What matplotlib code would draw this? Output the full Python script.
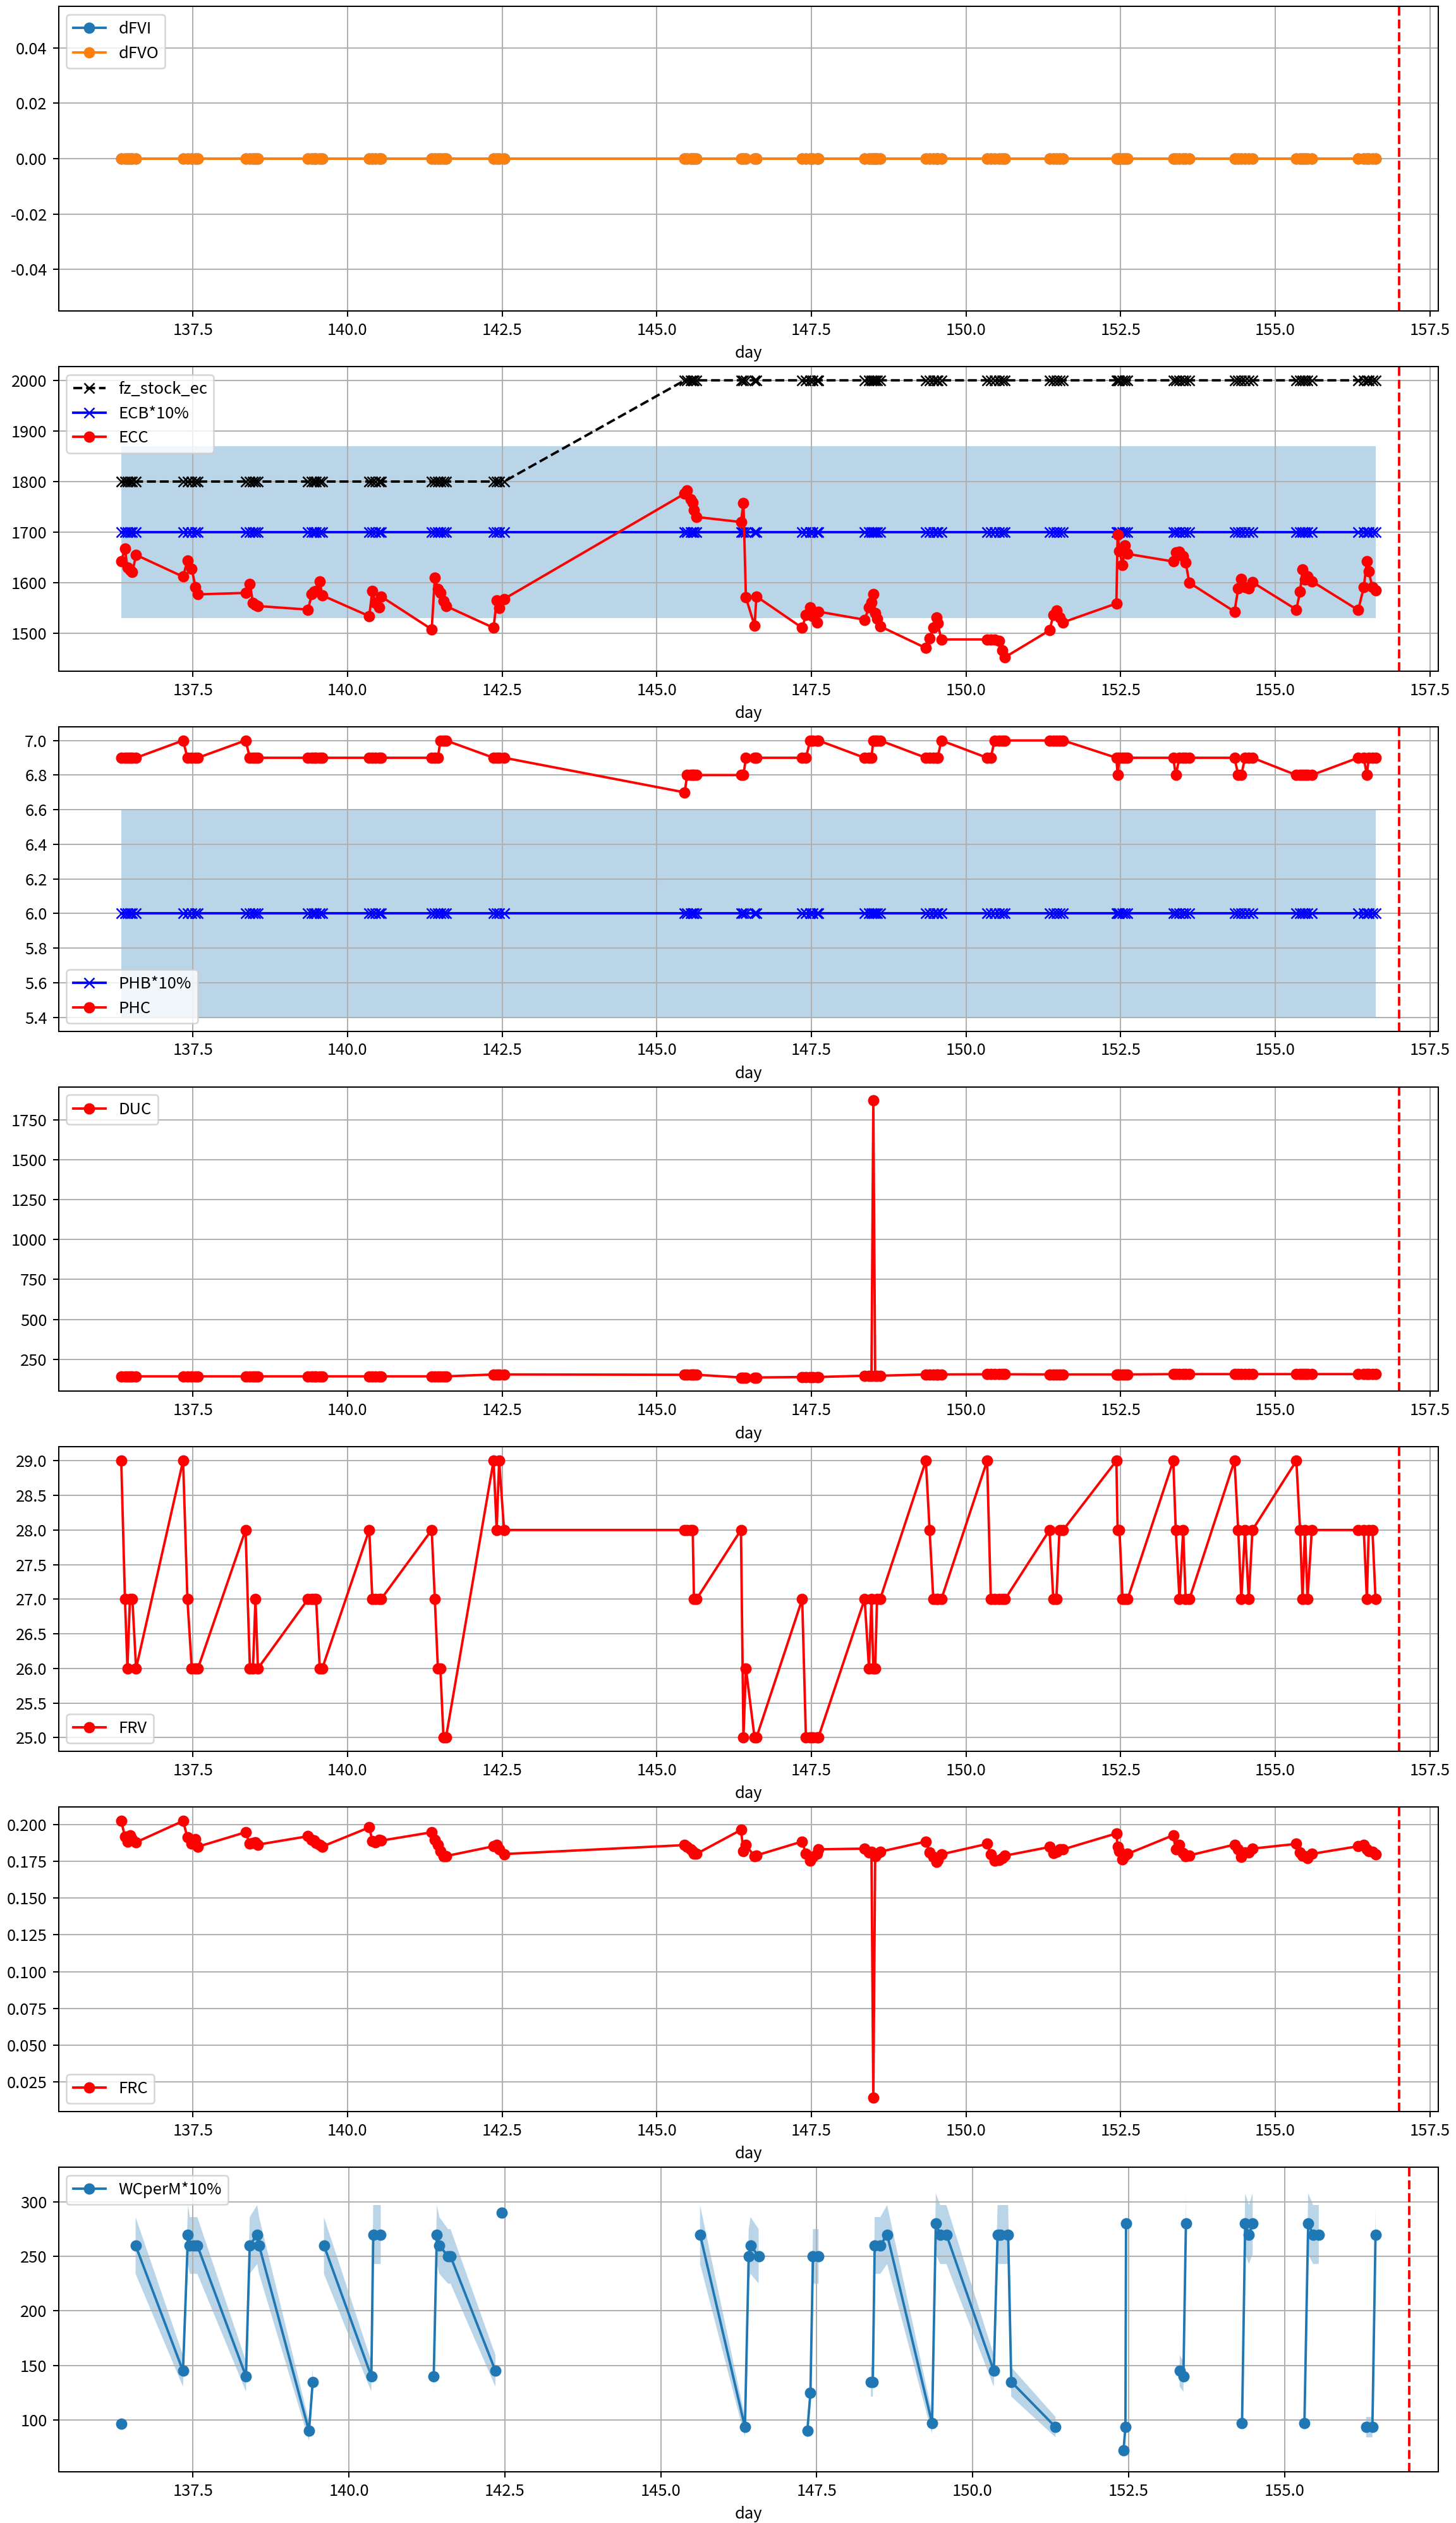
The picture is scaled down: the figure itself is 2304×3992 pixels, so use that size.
import numpy as np
import matplotlib
matplotlib.use("Agg")
import matplotlib.pyplot as plt

plt.rcParams['font.family'] = ['Noto Sans CJK SC', 'DejaVu Sans']
plt.rcParams['axes.unicode_minus'] = False

# ---------------- shared sample times (day of year) ----------------
day_groups = [
    [136.34, 136.40, 136.44, 136.48, 136.52, 136.58],
    [137.34, 137.41, 137.48, 137.54, 137.58],
    [138.35, 138.42, 138.47, 138.51, 138.55],
    [139.36, 139.42, 139.46, 139.49, 139.55, 139.59],
    [140.35, 140.40, 140.45, 140.51, 140.54],
    [141.36, 141.41, 141.46, 141.50, 141.55, 141.59],
    [142.36, 142.41, 142.45, 142.53],
    [145.45, 145.49, 145.55, 145.58, 145.60, 145.64],
    [146.36, 146.40, 146.44, 146.58, 146.61],
    [147.35, 147.41, 147.48, 147.52, 147.59, 147.61],
    [148.36, 148.43, 148.47, 148.50, 148.53, 148.56, 148.61],
    [149.35, 149.41, 149.47, 149.52, 149.54, 149.60],
    [150.34, 150.40, 150.46, 150.53, 150.59, 150.63],
    [151.35, 151.41, 151.46, 151.51, 151.57],
    [152.43, 152.45, 152.48, 152.53, 152.57, 152.61],
    [153.35, 153.39, 153.45, 153.51, 153.55, 153.61],
    [154.34, 154.40, 154.45, 154.51, 154.57, 154.63],
    [155.34, 155.40, 155.44, 155.48, 155.52, 155.59],
    [156.34, 156.43, 156.48, 156.51, 156.57, 156.62],
]

dFVI_groups = [
    [0, 0, 0, 0, 0, 0], [0, 0, 0, 0, 0], [0, 0, 0, 0, 0], [0, 0, 0, 0, 0, 0],
    [0, 0, 0, 0, 0], [0, 0, 0, 0, 0, 0], [0, 0, 0, 0], [0, 0, 0, 0, 0, 0],
    [0, 0, 0, 0, 0], [0, 0, 0, 0, 0, 0], [0, 0, 0, 0, 0, 0, 0], [0, 0, 0, 0, 0, 0],
    [0, 0, 0, 0, 0, 0], [0, 0, 0, 0, 0], [0, 0, 0, 0, 0, 0], [0, 0, 0, 0, 0, 0],
    [0, 0, 0, 0, 0, 0], [0, 0, 0, 0, 0, 0], [0, 0, 0, 0, 0, 0],
]
dFVO_groups = [
    [0, 0, 0, 0, 0, 0], [0, 0, 0, 0, 0], [0, 0, 0, 0, 0], [0, 0, 0, 0, 0, 0],
    [0, 0, 0, 0, 0], [0, 0, 0, 0, 0, 0], [0, 0, 0, 0], [0, 0, 0, 0, 0, 0],
    [0, 0, 0, 0, 0], [0, 0, 0, 0, 0, 0], [0, 0, 0, 0, 0, 0, 0], [0, 0, 0, 0, 0, 0],
    [0, 0, 0, 0, 0, 0], [0, 0, 0, 0, 0], [0, 0, 0, 0, 0, 0], [0, 0, 0, 0, 0, 0],
    [0, 0, 0, 0, 0, 0], [0, 0, 0, 0, 0, 0], [0, 0, 0, 0, 0, 0],
]

fz_stock_ec_groups = [
    [1800, 1800, 1800, 1800, 1800, 1800], [1800, 1800, 1800, 1800, 1800],
    [1800, 1800, 1800, 1800, 1800], [1800, 1800, 1800, 1800, 1800, 1800],
    [1800, 1800, 1800, 1800, 1800], [1800, 1800, 1800, 1800, 1800, 1800],
    [1800, 1800, 1800, 1800], [2000, 2000, 2000, 2000, 2000, 2000],
    [2000, 2000, 2000, 2000, 2000], [2000, 2000, 2000, 2000, 2000, 2000],
    [2000, 2000, 2000, 2000, 2000, 2000, 2000], [2000, 2000, 2000, 2000, 2000, 2000],
    [2000, 2000, 2000, 2000, 2000, 2000], [2000, 2000, 2000, 2000, 2000],
    [2000, 2000, 2000, 2000, 2000, 2000], [2000, 2000, 2000, 2000, 2000, 2000],
    [2000, 2000, 2000, 2000, 2000, 2000], [2000, 2000, 2000, 2000, 2000, 2000],
    [2000, 2000, 2000, 2000, 2000, 2000],
]

ECB_groups = [
    [1700, 1700, 1700, 1700, 1700, 1700], [1700, 1700, 1700, 1700, 1700],
    [1700, 1700, 1700, 1700, 1700], [1700, 1700, 1700, 1700, 1700, 1700],
    [1700, 1700, 1700, 1700, 1700], [1700, 1700, 1700, 1700, 1700, 1700],
    [1700, 1700, 1700, 1700], [1700, 1700, 1700, 1700, 1700, 1700],
    [1700, 1700, 1700, 1700, 1700], [1700, 1700, 1700, 1700, 1700, 1700],
    [1700, 1700, 1700, 1700, 1700, 1700, 1700], [1700, 1700, 1700, 1700, 1700, 1700],
    [1700, 1700, 1700, 1700, 1700, 1700], [1700, 1700, 1700, 1700, 1700],
    [1700, 1700, 1700, 1700, 1700, 1700], [1700, 1700, 1700, 1700, 1700, 1700],
    [1700, 1700, 1700, 1700, 1700, 1700], [1700, 1700, 1700, 1700, 1700, 1700],
    [1700, 1700, 1700, 1700, 1700, 1700],
]

ECC_groups = [
    [1642, 1667, 1630, 1625, 1621, 1655],
    [1612, 1644, 1628, 1591, 1577],
    [1580, 1598, 1560, 1556, 1554],
    [1547, 1577, 1582, 1584, 1603, 1575],
    [1534, 1584, 1560, 1551, 1573],
    [1508, 1610, 1588, 1580, 1564, 1554],
    [1511, 1565, 1550, 1568],
    [1776, 1782, 1765, 1759, 1744, 1730],
    [1720, 1758, 1571, 1515, 1573],
    [1511, 1536, 1551, 1534, 1522, 1543],
    [1527, 1552, 1561, 1578, 1540, 1529, 1514],
    [1471, 1490, 1511, 1531, 1520, 1488],
    [1488, 1488, 1488, 1485, 1467, 1453],
    [1506, 1536, 1545, 1532, 1522],
    [1559, 1695, 1663, 1635, 1674, 1657],
    [1642, 1660, 1661, 1652, 1640, 1600],
    [1543, 1589, 1607, 1591, 1589, 1601],
    [1547, 1582, 1626, 1606, 1612, 1603],
    [1546, 1591, 1642, 1622, 1591, 1585],
]

PHB_groups = [
    [6.0, 6.0, 6.0, 6.0, 6.0, 6.0], [6.0, 6.0, 6.0, 6.0, 6.0], [6.0, 6.0, 6.0, 6.0, 6.0],
    [6.0, 6.0, 6.0, 6.0, 6.0, 6.0], [6.0, 6.0, 6.0, 6.0, 6.0], [6.0, 6.0, 6.0, 6.0, 6.0, 6.0],
    [6.0, 6.0, 6.0, 6.0], [6.0, 6.0, 6.0, 6.0, 6.0, 6.0], [6.0, 6.0, 6.0, 6.0, 6.0],
    [6.0, 6.0, 6.0, 6.0, 6.0, 6.0], [6.0, 6.0, 6.0, 6.0, 6.0, 6.0, 6.0],
    [6.0, 6.0, 6.0, 6.0, 6.0, 6.0], [6.0, 6.0, 6.0, 6.0, 6.0, 6.0], [6.0, 6.0, 6.0, 6.0, 6.0],
    [6.0, 6.0, 6.0, 6.0, 6.0, 6.0], [6.0, 6.0, 6.0, 6.0, 6.0, 6.0], [6.0, 6.0, 6.0, 6.0, 6.0, 6.0],
    [6.0, 6.0, 6.0, 6.0, 6.0, 6.0], [6.0, 6.0, 6.0, 6.0, 6.0, 6.0],
]

PHC_groups = [
    [6.9, 6.9, 6.9, 6.9, 6.9, 6.9],
    [7.0, 6.9, 6.9, 6.9, 6.9],
    [7.0, 6.9, 6.9, 6.9, 6.9],
    [6.9, 6.9, 6.9, 6.9, 6.9, 6.9],
    [6.9, 6.9, 6.9, 6.9, 6.9],
    [6.9, 6.9, 6.9, 7.0, 7.0, 7.0],
    [6.9, 6.9, 6.9, 6.9],
    [6.7, 6.8, 6.8, 6.8, 6.8, 6.8],
    [6.8, 6.8, 6.9, 6.9, 6.9],
    [6.9, 6.9, 7.0, 7.0, 7.0, 7.0],
    [6.9, 6.9, 6.9, 7.0, 7.0, 7.0, 7.0],
    [6.9, 6.9, 6.9, 6.9, 6.9, 7.0],
    [6.9, 6.9, 7.0, 7.0, 7.0, 7.0],
    [7.0, 7.0, 7.0, 7.0, 7.0],
    [6.9, 6.8, 6.9, 6.9, 6.9, 6.9],
    [6.9, 6.8, 6.9, 6.9, 6.9, 6.9],
    [6.9, 6.8, 6.8, 6.9, 6.9, 6.9],
    [6.8, 6.8, 6.8, 6.8, 6.8, 6.8],
    [6.9, 6.9, 6.8, 6.9, 6.9, 6.9],
]

DUC_groups = [
    [143, 143, 143, 143, 143, 143],
    [143, 143, 143, 143, 143],
    [143, 143, 143, 143, 143],
    [143, 143, 143, 143, 143, 143],
    [143, 143, 143, 143, 143],
    [143, 143, 143, 143, 143, 143],
    [155, 155, 155, 155],
    [153, 153, 153, 153, 153, 153],
    [136, 136, 136, 136, 136],
    [139, 139, 139, 139, 139, 139],
    [147, 147, 147, 1871, 147, 147, 147],
    [155, 155, 155, 155, 155, 155],
    [156, 156, 156, 156, 156, 156],
    [155, 155, 155, 155, 155],
    [155, 155, 155, 155, 155, 155],
    [157, 157, 157, 157, 157, 157],
    [157, 157, 157, 157, 157, 157],
    [157, 157, 157, 157, 157, 157],
    [157, 157, 157, 157, 157, 157],
]

FRV_groups = [
    [29, 27, 26, 27, 27, 26],
    [29, 27, 26, 26, 26],
    [28, 26, 26, 27, 26],
    [27, 27, 27, 27, 26, 26],
    [28, 27, 27, 27, 27],
    [28, 27, 26, 26, 25, 25],
    [29, 28, 29, 28],
    [28, 28, 28, 28, 27, 27],
    [28, 25, 26, 25, 25],
    [27, 25, 25, 25, 25, 25],
    [27, 26, 27, 26, 26, 27, 27],
    [29, 28, 27, 27, 27, 27],
    [29, 27, 27, 27, 27, 27],
    [28, 27, 27, 28, 28],
    [29, 28, 28, 27, 27, 27],
    [29, 28, 27, 28, 27, 27],
    [29, 28, 27, 28, 27, 28],
    [29, 28, 27, 28, 27, 28],
    [28, 28, 27, 28, 28, 27],
]

FRC_groups = [
    [0.2024, 0.1916, 0.1884, 0.1924, 0.1900, 0.1879],
    [0.2024, 0.1911, 0.1871, 0.1900, 0.1849],
    [0.1947, 0.1868, 0.1875, 0.1879, 0.1863],
    [0.1920, 0.1895, 0.1890, 0.1875, 0.1860, 0.1850],
    [0.1980, 0.1889, 0.1880, 0.1895, 0.1890],
    [0.1947, 0.1895, 0.1860, 0.1820, 0.1783, 0.1785],
    [0.1852, 0.1863, 0.1830, 0.1799],
    [0.1860, 0.1850, 0.1830, 0.1820, 0.1800, 0.1800],
    [0.1963, 0.1820, 0.1860, 0.1783, 0.1790],
    [0.1884, 0.1800, 0.1756, 0.1780, 0.1800, 0.1831],
    [0.1836, 0.1812, 0.1815, 0.0143, 0.1783, 0.1800, 0.1815],
    [0.1884, 0.1812, 0.1780, 0.1745, 0.1760, 0.1797],
    [0.1868, 0.1797, 0.1756, 0.1760, 0.1770, 0.1788],
    [0.1847, 0.1804, 0.1815, 0.1830, 0.1831],
    [0.1939, 0.1847, 0.1820, 0.1764, 0.1790, 0.1800],
    [0.1927, 0.1830, 0.1860, 0.1804, 0.1783, 0.1790],
    [0.1863, 0.1830, 0.1780, 0.1810, 0.1812, 0.1836],
    [0.1868, 0.1812, 0.1790, 0.1785, 0.1772, 0.1800],
    [0.1852, 0.1863, 0.1830, 0.1820, 0.1815, 0.1797],
]

# WCperM series (own timestamps, None = missing value -> gap)
wc_day = [136.35, 136.36,
          136.58, 137.34, 137.42, 137.45, 137.52, 137.57, 138.35, 138.41, 138.53, 138.56,
          139.36, 139.42, 139.50,
          139.60, 140.36, 140.39, 140.51, 141.00,
          141.36, 141.41, 141.45, 141.59, 141.63, 142.35, 142.40,
          142.45, 142.50,
          145.63, 146.35, 146.41, 146.44, 146.57, 147.00,
          147.35, 147.40, 147.44, 147.53, 148.00,
          148.37, 148.40, 148.43, 148.52, 148.63, 149.35, 149.41, 149.48, 149.58,
          150.34, 150.40, 150.45, 150.57, 150.62, 151.33, 152.00,
          152.42, 152.45, 152.46, 153.00,
          153.32, 153.38, 153.42, 154.00,
          154.32, 154.37, 154.43, 154.49, 155.00,
          155.32, 155.38, 155.46, 155.55, 156.00,
          156.31, 156.41, 156.46]
wc_val = [96.8, None,
          260, 145, 270, 260, 260, 260, 140, 260, 270, 260,
          90, 135, None,
          260, 140, 270, 270, None,
          140, 270, 260, 250, 250, 145, None,
          290, None,
          270, 93.5, 250, 260, 250, None,
          90, 125, 250, 250, None,
          135, 135, 260, 260, 270, 97, 280, 270, 270,
          145, 270, 270, 270, 135, 93.5, None,
          72.5, 93.5, 280, None,
          145, 140, 280, None,
          97, 280, 270, 280, None,
          97, 280, 270, 270, None,
          93.5, 93.5, 270]

VLINE_DAY = 157.0


def flat(groups):
    return np.array([v for g in groups for v in g], dtype=float)


day = flat(day_groups)
dFVI = flat(dFVI_groups)
dFVO = flat(dFVO_groups)
fz_stock_ec = flat(fz_stock_ec_groups)
ECB = flat(ECB_groups)
ECC = flat(ECC_groups)
PHB = flat(PHB_groups)
PHC = flat(PHC_groups)
DUC = flat(DUC_groups)
FRV = flat(FRV_groups)
FRC = flat(FRC_groups)
wc_x = np.array(wc_day, dtype=float)
wc_y = np.array([np.nan if v is None else v for v in wc_val], dtype=float)

DPI = 184
fig = plt.figure(figsize=(2304 / DPI, 3992 / DPI), dpi=DPI)
axes = fig.subplots(7, 1)
fig.subplots_adjust(left=0.0402, right=0.9878, top=0.9975, bottom=0.0203, hspace=0.1826)

# Panel 1
ax = axes[0]
ax.plot(day, dFVI, 'o-', label='dFVI')
ax.plot(day, dFVO, 'o-', label='dFVO')
ax.legend(loc='upper left')

# Panel 2
ax = axes[1]
ax.plot(day, fz_stock_ec, 'kx--', label='fz_stock_ec')
ax.plot(day, ECB, 'bx-', label='ECB*10%')
ax.plot(day, ECC, 'ro-', label='ECC')
ax.fill_between(day, ECB * 0.9, ECB * 1.1, alpha=0.3)
ax.legend(loc='upper left')

# Panel 3
ax = axes[2]
ax.plot(day, PHB, 'bx-', label='PHB*10%')
ax.plot(day, PHC, 'ro-', label='PHC')
ax.fill_between(day, PHB * 0.9, PHB * 1.1, alpha=0.3)
ax.legend(loc='lower left')

# Panel 4
ax = axes[3]
ax.plot(day, DUC, 'ro-', label='DUC')
ax.legend(loc='upper left')

# Panel 5
ax = axes[4]
ax.plot(day, FRV, 'ro-', label='FRV')
ax.legend(loc='lower left')

# Panel 6
ax = axes[5]
ax.plot(day, FRC, 'ro-', label='FRC')
ax.legend(loc='lower left')

# Panel 7
ax = axes[6]
ax.plot(wc_x, wc_y, 'o-', label='WCperM*10%')
ax.fill_between(wc_x, wc_y * 0.9, wc_y * 1.1, alpha=0.3)
ax.legend(loc='upper left')

for ax in axes:
    ax.axvline(VLINE_DAY, color='r', linestyle='--')
    ax.grid(True)
    ax.set_xlabel('day')

fig.savefig('out.png', dpi=DPI)
